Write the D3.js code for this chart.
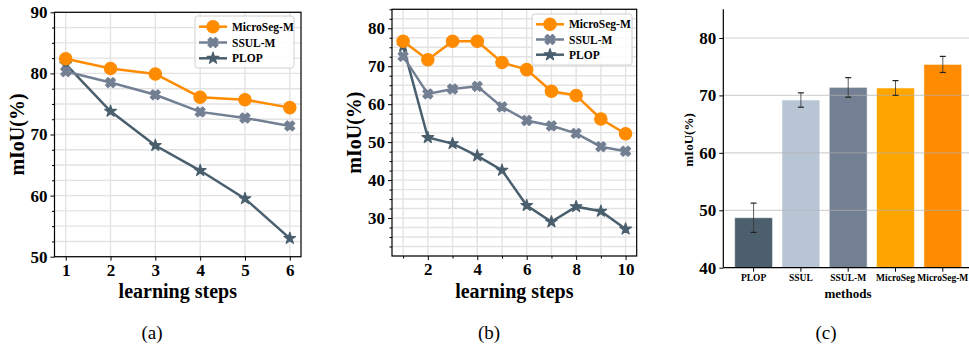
<!DOCTYPE html>
<html><head><meta charset="utf-8">
<script src="https://cdn.jsdelivr.net/npm/d3@7"></script>
<style>body{margin:0;background:#fff}svg{display:block}text{font-family:"Liberation Serif","Times New Roman",serif}</style>
</head><body><svg id="c" width="969" height="347"></svg>
<script>
// ---- data ----
const seriesNames = ["MicroSeg-M", "SSUL-M", "PLOP"];
const stepsA = [1, 2, 3, 4, 5, 6];
const microA = [82.4, 80.8, 79.9, 76.1, 75.7, 74.4];
const ssulA  = [80.3, 78.5, 76.5, 73.7, 72.7, 71.4];
const plopA  = [81.5, 73.8, 68.2, 64.1, 59.5, 53.0];
const stepsB = [1, 2, 3, 4, 5, 6, 7, 8, 9, 10];
const microB = [76.6, 71.7, 76.6, 76.6, 71.0, 69.1, 63.4, 62.3, 56.1, 52.2];
const ssulB  = [72.6, 62.7, 64.0, 64.7, 59.3, 55.7, 54.3, 52.3, 48.8, 47.6];
const plopB  = [75.3, 51.2, 49.6, 46.4, 42.6, 33.3, 29.0, 33.0, 31.8, 27.1];
const methods = ["PLOP", "SSUL", "SSUL-M", "MicroSeg", "MicroSeg-M"];
const methodMean = [48.7, 69.2, 71.4, 71.3, 75.4];
const methodErr  = [2.55, 1.25, 1.7, 1.28, 1.4];
const yTicksA = [50, 60, 70, 80, 90];
const yTicksB = [30, 40, 50, 60, 70, 80];
const xTicksB = [2, 4, 6, 8, 10];
const yTicksC = [40, 50, 60, 70, 80];
const captions = ["(a)", "(b)", "(c)"];

const colors = {"MicroSeg-M": "#ff8c00", "SSUL-M": "#737f92", "PLOP": "#4a5f6e"};
const barColors = ["#4b5f6d", "#b8c5d4", "#737f92", "#ffa500", "#ff8c00"];
const svg = d3.select("#c");

function markerPath(name) {
  if (name === "MicroSeg-M") return d3.symbol(d3.symbolCircle, 120)();
  if (name === "SSUL-M") return d3.symbol(d3.symbolCross, 62)();
  return d3.symbol(d3.symbolStar, 42)();
}
function drawMarker(g, name, x, y) {
  g.append("path").attr("d", markerPath(name))
    .attr("transform", `translate(${x},${y})` + (name === "SSUL-M" ? " rotate(45)" : ""))
    .attr("fill", colors[name]).attr("stroke", colors[name]).attr("stroke-width", 1.2)
    .attr("stroke-linejoin", "round");
}

function linePanel(o) {
  const x = d3.scaleLinear().domain(o.xdom).range([o.left, o.right]);
  const y = d3.scaleLinear().domain(o.ydom).range([o.bottom, o.top]);
  const g = svg.append("g");
  // grid
  const hs = d3.range(o.ydom[0], o.ydom[1] + 0.001, 2.5);
  g.selectAll(null).data(hs).enter().append("line")
    .attr("x1", o.left).attr("x2", o.right).attr("y1", d => y(d)).attr("y2", d => y(d))
    .attr("stroke", "#e3e3e3").attr("stroke-width", 1.4);
  g.selectAll(null).data(o.vgrid).enter().append("line")
    .attr("y1", o.top).attr("y2", o.bottom).attr("x1", d => x(d)).attr("x2", d => x(d))
    .attr("stroke", "#e3e3e3").attr("stroke-width", 1.4);
  // series
  const data = [[ "MicroSeg-M", o.micro ], ["SSUL-M", o.ssul], ["PLOP", o.plop]];
  const line = d3.line().x((d, i) => x(o.steps[i])).y(d => y(d));
  data.slice().reverse().forEach(([name, vals]) => {
    g.append("path").datum(vals).attr("d", line).attr("fill", "none")
      .attr("stroke", colors[name]).attr("stroke-width", 2.5);
    vals.forEach((v, i) => drawMarker(g, name, x(o.steps[i]), y(v)));
  });
  // axes
  const ax = g.append("g").attr("transform", `translate(0,${o.bottom})`)
    .call(d3.axisBottom(x).tickValues(o.xticks).tickFormat(d3.format("d")).tickSize(4).tickPadding(3));
  if (o.xminor) g.append("g").attr("transform", `translate(0,${o.bottom})`)
    .call(d3.axisBottom(x).tickValues(o.xminor).tickFormat("").tickSize(2.5)).select(".domain").remove();
  const ay = g.append("g").attr("transform", `translate(${o.left},0)`)
    .call(d3.axisLeft(y).tickValues(o.yticks).tickSize(4).tickPadding(3));
  g.append("g").attr("transform", `translate(${o.left},0)`)
    .call(d3.axisLeft(y).tickValues(hs.filter(v => v % 10 !== 0)).tickFormat("").tickSize(2.5)).select(".domain").remove();
  [ax, ay].forEach(a => {
    a.selectAll("text").attr("font-size", 17).attr("font-weight", "bold").attr("fill", "#000")
      .attr("font-family", "Liberation Serif");
    a.select(".domain").remove();
  });
  g.selectAll(".tick line").attr("stroke", "#000");
  g.append("rect").attr("x", o.left).attr("y", o.top).attr("width", o.right - o.left)
    .attr("height", o.bottom - o.top).attr("fill", "none").attr("stroke", "#000").attr("stroke-width", 1.2);
  // labels
  g.append("text").attr("x", (o.left + o.right) / 2).attr("y", 298).attr("text-anchor", "middle")
    .attr("font-size", 20).attr("font-weight", "bold").text("learning steps");
  g.append("text").attr("transform", `translate(${o.ylabX},${(o.top + o.bottom) / 2}) rotate(-90)`)
    .attr("text-anchor", "middle").attr("font-size", 20).attr("font-weight", "bold").text("mIoU(%)");
  // legend
  const L = o.legend;
  g.append("rect").attr("x", L.x).attr("y", L.y).attr("width", L.w).attr("height", L.h).attr("rx", 2.5)
    .attr("fill", "#fff").attr("fill-opacity", 0.85).attr("stroke", "#d0d0d0").attr("stroke-width", 1);
  seriesNames.forEach((name, i) => {
    const yy = L.y + L.r0 + i * L.dy;
    g.append("line").attr("x1", L.x + 4).attr("x2", L.x + 32).attr("y1", yy).attr("y2", yy)
      .attr("stroke", colors[name]).attr("stroke-width", 2.5);
    drawMarker(g, name, L.x + 18, yy);
    g.append("text").attr("x", L.x + 37).attr("y", yy + 4).attr("font-size", 11.5).attr("font-weight", "bold")
      .text(name);
  });
}

linePanel({left: 54.5, right: 301, top: 12.3, bottom: 256.7, xdom: [0.75, 6.25], ydom: [50, 90],
  steps: stepsA, micro: microA, ssul: ssulA, plop: plopA, xticks: stepsA, vgrid: stepsA,
  yticks: yTicksA, ylabX: 24, legend: {x: 195, y: 16, w: 99, h: 52, r0: 10.7, dy: 15.8}});
linePanel({left: 392, right: 636.7, top: 9.3, bottom: 256, xdom: [0.55, 10.45], ydom: [20, 85],
  steps: stepsB, micro: microB, ssul: ssulB, plop: plopB, xticks: xTicksB, xminor: [1, 3, 5, 7, 9], vgrid: stepsB,
  yticks: yTicksB, ylabX: 361, legend: {x: 532, y: 14, w: 100, h: 51, r0: 10.3, dy: 15.2}});

// ---- bar panel ----
(function () {
  const left = 723.3, bottom = 267.7, top = 9.3;
  const x = d3.scaleBand().domain(methods).range([left + 30.3 - 23.65, left + 30.3 - 23.65 + 5 * 47.3]).paddingInner(0.2).paddingOuter(0.1);
  const y = d3.scaleLinear().domain([40, 85]).range([bottom, top]);
  const g = svg.append("g");
  g.selectAll(null).data(methods).enter().append("rect")
    .attr("x", d => x(d)).attr("width", x.bandwidth())
    .attr("y", (d, i) => y(methodMean[i])).attr("height", (d, i) => bottom - y(methodMean[i]))
    .attr("fill", (d, i) => barColors[i]).attr("stroke", "#fff").attr("stroke-opacity", 0.5).attr("stroke-width", 1);
  g.selectAll(null).data(yTicksC.slice(1)).enter().append("line")
    .attr("x1", left).attr("x2", 969).attr("y1", d => y(d)).attr("y2", d => y(d))
    .attr("stroke", "#b0b0b0").attr("stroke-opacity", 0.55).attr("stroke-width", 1.2);
  methods.forEach((m, i) => {
    const cx = x(m) + x.bandwidth() / 2;
    const y1 = y(methodMean[i] + methodErr[i]), y2 = y(methodMean[i] - methodErr[i]);
    g.append("line").attr("x1", cx).attr("x2", cx).attr("y1", y1).attr("y2", y2).attr("stroke", "#333").attr("stroke-opacity", 0.8).attr("stroke-width", 1);
    [y1, y2].forEach(yy => g.append("line").attr("x1", cx - 3).attr("x2", cx + 3).attr("y1", yy).attr("y2", yy).attr("stroke", "#222").attr("stroke-width", 1.2));
  });
  const ax = g.append("g").attr("transform", `translate(0,${bottom})`)
    .call(d3.axisBottom(x).tickSize(4).tickPadding(3));
  ax.select(".domain").attr("d", `M${left},0H969`);
  ax.selectAll("text").attr("font-size", 9.5).attr("font-weight", "bold").attr("font-family", "Liberation Serif");
  const ay = g.append("g").attr("transform", `translate(${left},0)`)
    .call(d3.axisLeft(y).tickValues(yTicksC).tickSize(4).tickPadding(3));
  ay.select(".domain").attr("d", `M0,${top}V${bottom}`);
  ay.selectAll("text").attr("font-size", 17).attr("font-weight", "bold").attr("font-family", "Liberation Serif");
  g.selectAll(".domain").attr("stroke", "#000").attr("stroke-width", 1.2);
  g.append("text").attr("x", 848).attr("y", 298).attr("text-anchor", "middle").attr("font-size", 13)
    .attr("font-weight", "bold").text("methods");
  g.append("text").attr("transform", `translate(693,140) rotate(-90)`).attr("text-anchor", "middle")
    .attr("font-size", 13).attr("font-weight", "bold").text("mIoU(%)");
})();

// captions
[152, 489, 826].forEach((cx, i) => svg.append("text").attr("x", cx).attr("y", 339).attr("text-anchor", "middle")
  .attr("font-size", 19).text(captions[i]));
</script></body></html>
